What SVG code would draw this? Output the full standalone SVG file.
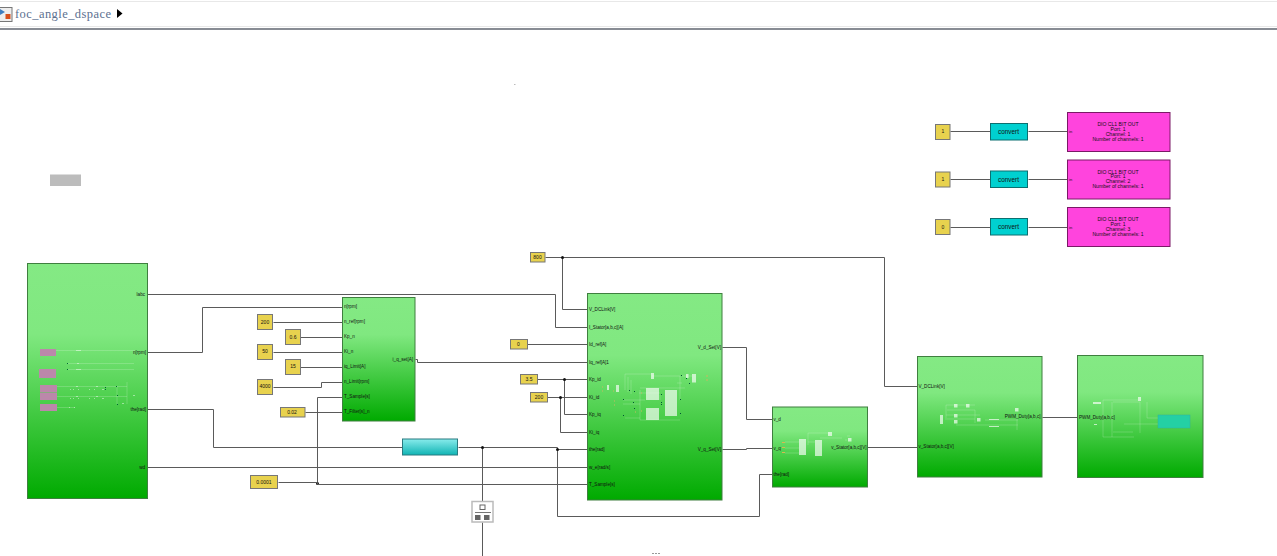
<svg xmlns="http://www.w3.org/2000/svg" width="1277" height="556" viewBox="0 0 1277 556">
<style>
text{font-family:"Liberation Sans",Arial,sans-serif;font-size:4.6px;fill:#111}
.c{text-anchor:middle}
.e{text-anchor:end}
.w{fill:none;stroke:#5a5a5a;stroke-width:1}
.k{fill:#e8d24e;stroke:#777;stroke-width:1}
.b{fill:url(#g);stroke:#3f7f3f;stroke-width:1}
.cv{fill:#00d0d0;stroke:#0c6f70;stroke-width:1}
.p{fill:#ff44dd;stroke:#7a1a66;stroke-width:1}
.m{fill:#bb88aa}
.i{fill:none;stroke:#fff;stroke-opacity:.18;stroke-width:1}
.h{fill:#fff;fill-opacity:.65}
.kt{font-size:5px}
.cvt{font-size:6.400px}
.dt{font-size:5.100px}
</style>
<defs>
<linearGradient id="g" x1="0" y1="0" x2="0" y2="1">
<stop offset="0" stop-color="#84e984"/><stop offset=".3" stop-color="#80e880"/><stop offset="1" stop-color="#00aa00"/>
</linearGradient>
<linearGradient id="tl" x1="0" y1="0" x2="0" y2="1">
<stop offset="0" stop-color="#88ecec"/><stop offset="1" stop-color="#10b4b4"/>
</linearGradient>
<marker id="j" markerWidth="3" markerHeight="3" refX="1.5" refY="1.5"><circle cx="1.5" cy="1.5" r="1.5" fill="#111"/></marker>
</defs>
<rect width="1277" height="556" fill="#fff"/>
<g id="toolbar">
<path d="M0 1.5H1277M0 26.5H1277" stroke="#e8e8e8" fill="none"/>
<rect x="0" y="28" width="1277" height="2" fill="#888c94"/>
<rect x="-1" y="7.5" width="13" height="14" fill="#eee" stroke="#777"/>
<path d="M0 9l5 3-5 3z" fill="#3f7fc0"/>
<rect x="5.500" y="14" width="5" height="5" fill="#d8501c"/>
<text x="15" y="18" textLength="96" lengthAdjust="spacing" style="font-family:'Liberation Serif',serif;font-size:12.500px;fill:#5c7090">foc_angle_dspace</text>
<path d="M117 9l5.500 4.500-5.500 4.500z" fill="#000"/>
</g>
<rect id="annotation" x="50" y="174.500" width="31" height="11.500" fill="#bcbcbc"/>
<rect id="speck" x="514" y="84" width="1.500" height="1" fill="#bbb"/>
<path id="bottom-mark" d="M652 553.500h8" stroke="#999" stroke-dasharray="2 1"/>

<g id="connectors" transform="translate(.5 .5)">
<path class="w" d="M147 294H555V327H587"/>
<path class="w" d="M147 352H202V307H342"/>
<path class="w" d="M147 409H213V447H402"/>
<path class="w" d="M147 467H587"/>
<path class="w" d="M273 322H342M300 337H342M273 352H342M300 367H342M273 387H321V382H342M305 412H342"/>
<path class="w" d="M342 397H317V483" marker-end="url(#j)"/>
<path class="w" d="M278 482H317V484H587"/>
<path class="w" d="M415 359H417V362H587"/>
<path class="w" d="M458 447H557V449H587"/>
<path class="w" d="M557 449V516H759V474H772"/>
<path class="w" d="M482 447V502" marker-start="url(#j)"/>
<path class="w" d="M482 522V556"/>
<path class="w" d="M545 257H884V386H917"/>
<path class="w" d="M562 257V309H587" marker-start="url(#j)"/>
<path class="w" d="M527 344H587"/>
<path class="w" d="M537 379H587M547 397H587"/>
<path class="w" d="M564 379V414H587" marker-start="url(#j)"/>
<path class="w" d="M560 397V432H587" marker-start="url(#j)"/>
<path class="w" d="M557 449V449.100" marker-start="url(#j)"/>
<path class="w" d="M722 347H746V419H772"/>
<path class="w" d="M722 449H746V448H772"/>
<path class="w" d="M867 447H917"/>
<path class="w" d="M1042 417H1077"/>
<path class="w" d="M950 131H990M1028 131H1067M950 179H990M1028 179H1067M950 227H990M1028 227H1067"/>
</g>

<g id="block-motor">
<rect class="b" x="27.500" y="263.500" width="120" height="235"/>
<rect class="m" x="40" y="349" width="16" height="7"/><rect class="m" x="39" y="369" width="17" height="9"/><rect class="m" x="40" y="385" width="17" height="7.500"/><rect class="m" x="40" y="393" width="17" height="7"/><rect class="m" x="40" y="404" width="17" height="7"/>
<path class="i" d="M56 350.500H135M67 363.500H134M67 369.500H134M57 386.500H127M57 396.500H127M57 407.500H75M127 382V404M117 386V404"/>
<path d="M76 350.500h5M77 363.500h2M76 369.500h5M76 386.500h2M76 396.500h2M96 386.500h2M96 396.500h2M122 403.500h2M70 389.500h1M73 389.500h1M78 389.500h1M70 398.500h1M73 398.500h1M78 398.500h1M89 389.500h1M94 389.500h1M89 398.500h1M94 398.500h1M102 389.500h2M102 398.500h2M69 407.500h1M74 407.500h1M133 395.500h2" stroke="#fff" stroke-opacity=".45" fill="none"/>
<path d="M67 363h1v1h-1zM67 369h1v1h-1zM105 387h1v1h-1zM105 389h1v1h-1zM116 386h1v1h-1zM117 395h1v1h-1zM117 404h1v1h-1z" fill="#063"/>
<text class="e" x="145" y="296">labc</text><text class="e" x="146" y="354">n[rpm]</text><text class="e" x="146" y="411">the[rad]</text><text class="e" x="145" y="469">wd</text>
</g>

<g id="block-speed">
<rect class="b" x="342.500" y="297.500" width="72.500" height="123.500"/>
<text x="344" y="308">n[rpm]</text><text x="344" y="323">n_ref[rpm]</text><text x="344" y="338">Kp_n</text><text x="344" y="353">Ki_n</text><text x="344" y="368">iq_Limit[A]</text><text x="344" y="383">n_Limit[rpm]</text><text x="344" y="398">T_Sample[s]</text><text x="344" y="413">T_Filter[s]_n</text>
<text class="e" x="413" y="361">i_q_set[A]</text>
</g>

<g id="const-200"><rect class="k" x="257.500" y="314.500" width="15" height="15"/><text class="c kt" x="265" y="323.500">200</text></g>
<g id="const-0.6"><rect class="k" x="285.500" y="329.500" width="15" height="15"/><text class="c kt" x="293" y="338.500">0.6</text></g>
<g id="const-50"><rect class="k" x="257.500" y="344.500" width="15" height="15"/><text class="c kt" x="265" y="353">50</text></g>
<g id="const-15"><rect class="k" x="285.500" y="359.500" width="15" height="15"/><text class="c kt" x="293" y="368">15</text></g>
<g id="const-4000"><rect class="k" x="257.500" y="379.500" width="15" height="15"/><text class="c kt" x="265" y="388">4000</text></g>
<g id="const-0.02"><rect class="k" x="280.500" y="407.500" width="24.500" height="9.500"/><text class="c kt" x="292" y="413.500">0.02</text></g>
<g id="const-0.0001"><rect class="k" x="250.500" y="475.500" width="27" height="13"/><text class="c kt" x="264" y="483.500">0.0001</text></g>
<g id="const-800"><rect class="k" x="530.500" y="252.500" width="14.500" height="9.500"/><text class="c kt" x="537.500" y="259">800</text></g>
<g id="const-0"><rect class="k" x="510.500" y="339.500" width="17" height="9.500"/><text class="c kt" x="518.500" y="346">0</text></g>
<g id="const-3.5"><rect class="k" x="520.500" y="374.500" width="17" height="9.500"/><text class="c kt" x="529" y="381">3.5</text></g>
<g id="const-200b"><rect class="k" x="530.500" y="392.500" width="17" height="9.500"/><text class="c kt" x="539" y="398.500">200</text></g>

<g id="gain-teal"><rect x="402.500" y="439" width="55" height="16" fill="url(#tl)" stroke="#2a7a80"/></g>

<g id="scope">
<rect x="472" y="501.500" width="21" height="20.500" fill="#fff" stroke="#bbb" stroke-width="1.500"/>
<rect x="480" y="505" width="5" height="4.500" fill="#fff" stroke="#666"/>
<path d="M475 512.500H491" stroke="#777"/>
<rect x="475" y="515" width="5.500" height="5" fill="#666"/><rect x="484" y="515" width="5.500" height="5" fill="#666"/>
</g>

<g id="block-current">
<rect class="b" x="587.500" y="293.500" width="134.500" height="206.500"/>
<path class="i" d="M625 374H651M625 374V390M628 377V392M631 380V394M652 376H680M680 376V400M639 393H660M640 388H685M640 390V420H680M640 400H645M660 395V400M623 400H640M623 404H640M625 418H640M677 383H682M682 376H692"/>
<rect class="h" x="651" y="373" width="3" height="6"/><rect class="h" x="686" y="374" width="2.500" height="4"/><rect class="h" x="692" y="374" width="4" height="8.500"/>
<rect class="h" x="607" y="385" width="2" height="5"/><rect class="h" x="616" y="385" width="3" height="7"/>
<rect class="h" x="646" y="388" width="13" height="12"/><rect class="h" x="646" y="408" width="13" height="12"/><rect class="h" x="665" y="390" width="12" height="26"/>
<path d="M602 387h1M602 391h1M613 391h1M614 401h1M614 405h1M635 412h1M641 393h1M641 411h1M706 376h2M706 380h2" stroke="#c8b860"/>
<path d="M623 399h1v1h-1zM623 415h1v1h-1zM629 390h1v1h-1zM634 391h1v1h-1zM633 402h1v1h-1zM634 408h1v1h-1zM661 394h1v1h-1zM661 402h1v1h-1zM661 404h1v1h-1zM680 399h1v1h-1zM680 413h1v1h-1zM681 375h1v1h-1zM686 378h1v1h-1zM689 383h1v1h-1z" fill="#053"/>
<text x="589" y="311">V_DCLink[V]</text><text x="589" y="328.500">I_Stator[a,b,c][A]</text><text x="589" y="346">Id_ref[A]</text><text x="589" y="363.500">Iq_ref[A]1</text><text x="589" y="381">Kp_id</text><text x="589" y="398.500">Ki_id</text><text x="589" y="416">Kp_iq</text><text x="589" y="433.500">Ki_iq</text><text x="589" y="451">the[rad]</text><text x="589" y="468.500">w_e[rad/s]</text><text x="589" y="486">T_Sample[s]</text>
<text class="e" x="721" y="348.500">V_d_Set[V]</text><text class="e" x="721" y="451">V_q_Set[V]</text>
</g>

<g id="block-park">
<rect class="b" x="772.500" y="407" width="95" height="80"/>
<path class="i" d="M785 442H799M785 448H799M785 453H799M808 442H815M808 445V433H830M820 438H842M845 440H847M847 436H850"/>
<rect class="h" x="799" y="439" width="7" height="16"/><rect class="h" x="815" y="440" width="7" height="16"/><rect class="h" x="828" y="432" width="4" height="4"/><rect class="h" x="848" y="438" width="3.500" height="3.500"/>
<path d="M782 442.500h3M782 447.500h3M782 452.500h3" stroke="#d8b850"/>
<text x="773.500" y="421">v_d</text><text x="773.500" y="449.500">v_q</text><text x="773.500" y="476">the[rad]</text>
<text class="e" x="866.500" y="449">v_Stator[a,b,c][V]</text>
</g>

<g id="block-pwm">
<rect class="b" x="917.500" y="356.500" width="124.500" height="120.500"/>
<path class="i" d="M946 415H980M946 405V420M946 405H975M947 410H975V423M947 419H975M956 425H1018M985 420H1018M1017 415V430"/>
<rect class="h" x="940" y="415" width="3" height="9"/><rect class="h" x="954" y="404" width="3.500" height="3.500"/><rect class="h" x="966" y="404" width="3.500" height="3.500"/><rect class="h" x="954" y="414" width="3.500" height="3.500"/><rect class="h" x="954" y="420" width="3.500" height="3.500"/><rect class="h" x="977" y="418" width="3.500" height="3.500"/><rect class="h" x="1015" y="408" width="3.500" height="3.500"/>
<rect class="h" x="989" y="419" width="10" height="1"/><rect class="h" x="989" y="426" width="10" height="1"/>
<text x="918.500" y="388">V_DCLink[V]</text><text x="918.500" y="448">v_Stator[a,b,c][V]</text>
<text class="e" x="1040.500" y="418">PWM_Duty[a,b,c]</text>
</g>

<g id="block-output">
<rect class="b" x="1077.500" y="355.500" width="125.500" height="122"/>
<path class="i" d="M1113 402H1140V433M1113 432H1133M1103 400H1138M1103 400V437H1134M1147 402V418H1158M1124 424H1158M1112 402V437"/>
<rect class="h" x="1093" y="402" width="8" height="2"/><rect class="h" x="1138" y="397" width="3" height="4"/><rect class="h" x="1094" y="424" width="3" height="1"/>
<rect x="1158" y="415" width="32" height="13" fill="#24d0a4" stroke="#30b0a0" stroke-width=".5"/>
<text x="1079" y="419">PWM_Duty[a,b,c]</text>
</g>

<g id="const-1a"><rect class="k" x="935.500" y="124.500" width="14.500" height="15"/><text class="c kt" x="943" y="133">1</text></g>
<g id="const-1b"><rect class="k" x="935.500" y="172" width="14.500" height="15"/><text class="c kt" x="943" y="181">1</text></g>
<g id="const-0b"><rect class="k" x="935.500" y="219.500" width="14.500" height="15"/><text class="c kt" x="943" y="228.500">0</text></g>
<g id="convert-1"><rect class="cv" x="990.500" y="123.500" width="37" height="16.500"/><text class="c cvt" x="1008.500" y="134">convert</text></g>
<g id="convert-2"><rect class="cv" x="990.500" y="171" width="37" height="16.500"/><text class="c cvt" x="1008.500" y="181.500">convert</text></g>
<g id="convert-3"><rect class="cv" x="990.500" y="218.500" width="37" height="16.500"/><text class="c cvt" x="1008.500" y="229">convert</text></g>
<g id="dio-1"><rect class="p" x="1067.500" y="112.500" width="102.500" height="39"/><text x="1069" y="133" style="font-size:4px">in</text><text class="c dt" x="1118" y="126">DIO CL1 BIT OUT</text><text class="c dt" x="1118" y="130.500">Port: 1</text><text class="c dt" x="1118" y="135.500">Channel: 1</text><text class="c dt" x="1118" y="140.500">Number of channels: 1</text></g>
<g id="dio-2"><rect class="p" x="1067.500" y="160" width="102.500" height="39"/><text x="1069" y="181" style="font-size:4px">in</text><text class="c dt" x="1118" y="173.500">DIO CL1 BIT OUT</text><text class="c dt" x="1118" y="178">Port: 1</text><text class="c dt" x="1118" y="183">Channel: 2</text><text class="c dt" x="1118" y="188">Number of channels: 1</text></g>
<g id="dio-3"><rect class="p" x="1067.500" y="207.500" width="102.500" height="39"/><text x="1069" y="228.500" style="font-size:4px">in</text><text class="c dt" x="1118" y="221">DIO CL1 BIT OUT</text><text class="c dt" x="1118" y="225.500">Port: 1</text><text class="c dt" x="1118" y="230.500">Channel: 3</text><text class="c dt" x="1118" y="235.500">Number of channels: 1</text></g>
</svg>
